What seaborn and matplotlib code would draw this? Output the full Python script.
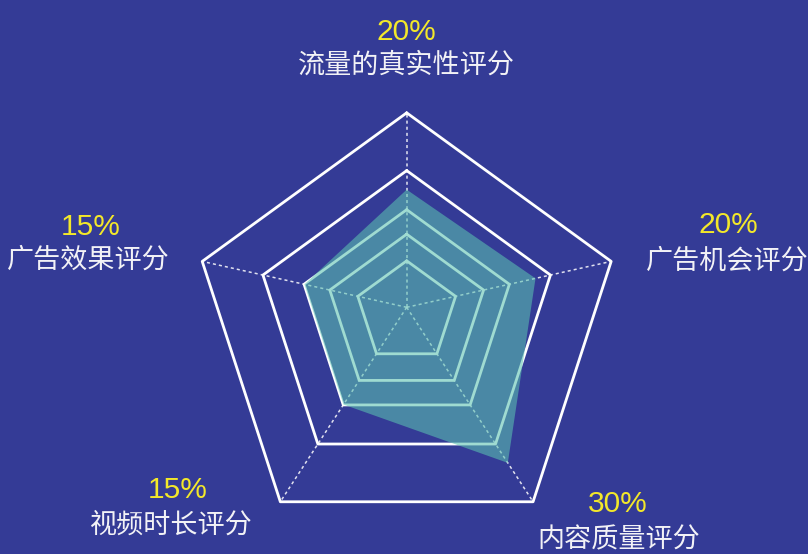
import numpy as np
import pandas as pd
import matplotlib
matplotlib.use("Agg")
import matplotlib.pyplot as plt
import seaborn as sns

# data
categories = ["流量的真实性评分", "广告机会评分", "内容质量评分", "视频时长评分", "广告效果评分"]
weights = ["20%", "20%", "30%", "15%", "15%"]
scores = [0.605, 0.63, 0.80, 0.50, 0.50]
ring_levels = [0.239, 0.376, 0.502, 0.703, 1.0]

bg = "#343b96"
fill_color = "#5ac1b0"
yellow = "#f3e82a"

sns.set_theme(style="white")
plt.rcParams["font.family"] = ["Noto Sans CJK SC", "DejaVu Sans"]

# vertex directions: pentagon that is centred vertically on its box
k = (1 - np.cos(np.radians(36))) / 2
theta = np.arange(len(categories)) * 2 * np.pi / len(categories)
dx = np.sin(theta)
dy = np.cos(theta) - k

fig = plt.figure(figsize=(8.08, 5.54), dpi=100, facecolor=bg)
ax = fig.add_axes([0, 0, 1, 1])
ax.set_facecolor(bg)
R = 215.0  # pixels per unit
ax.set_xlim(-406.7 / R, (808 - 406.7) / R)
ax.set_ylim(-(554 - 307.3) / R, 307.3 / R)
ax.set_aspect("equal")
ax.axis("off")

# spokes
for x, y in zip(dx, dy):
    ax.plot([0, x], [0, y], color="white", lw=1.1, alpha=0.85,
            linestyle=(0, (2, 2)), zorder=1)

# rings
closed = list(range(len(categories))) + [0]
rings = pd.DataFrame([
    {"ring": lvl, "x": lvl * dx[j], "y": lvl * dy[j]}
    for lvl in ring_levels for j in closed
])
for lvl, grp in rings.groupby("ring"):
    sns.lineplot(data=grp, x="x", y="y", sort=False, estimator=None,
                 color="white", lw=2.0, ax=ax, zorder=2)

# score polygon
px = np.array(scores) * dx
py = np.array(scores) * dy
ax.fill(px, py, color=fill_color, alpha=0.58, lw=0, zorder=3)

# labels: offsets in pixels from the outer vertex
pct_off = [(0, 72.7), (116.8, 28.7), (84.7, -10), (-103, 4), (-111.6, 26.7)]
name_off = [(0, 48), (116.3, 0.7), (85.7, -38), (-108.5, -23), (-114.3, 1.2)]
for i in range(len(categories)):
    ax.annotate(weights[i], xy=(dx[i], dy[i]), xytext=pct_off[i],
                textcoords="offset pixels", ha="center", va="baseline",
                fontsize=21.5, color=yellow, family=["Liberation Sans", "DejaVu Sans"],
                annotation_clip=False)
    ax.annotate(categories[i], xy=(dx[i], dy[i]), xytext=name_off[i],
                textcoords="offset pixels", ha="center", va="center",
                fontsize=19.5, color="#f2f2f6", annotation_clip=False)

fig.savefig("out.png", dpi=100, facecolor=bg)
